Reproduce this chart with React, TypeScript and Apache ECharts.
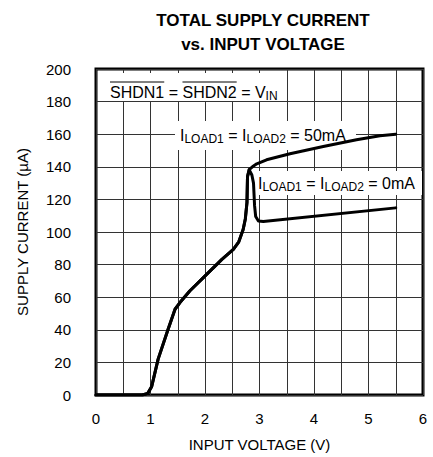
import React, { useEffect, useRef } from "react";
import * as echarts from "echarts";

// Curve: I_LOAD1 = I_LOAD2 = 50mA
const voltage50 = [0, 0.5, 0.85, 0.95, 1.02, 1.14, 1.32, 1.45, 1.54, 1.72, 2.03, 2.31, 2.52, 2.62, 2.7, 2.74, 2.77, 2.78, 2.81, 2.87, 2.95, 3.13, 3.56, 4.17, 4.78, 5.21, 5.5];
const current50 = [0, 0, 0, 1, 5, 22, 40, 52.6, 56.7, 63.8, 74, 83.2, 89.3, 94, 101.5, 108, 118, 134, 138.2, 140, 141.8, 144.3, 148, 152.5, 156.6, 159, 160];

// Curve: I_LOAD1 = I_LOAD2 = 0mA
const voltage0 = [0, 0.5, 0.85, 0.95, 1.02, 1.14, 1.32, 1.45, 1.54, 1.72, 2.03, 2.31, 2.52, 2.62, 2.7, 2.74, 2.77, 2.78, 2.81, 2.86, 2.89, 2.91, 2.93, 2.98, 3.07, 5.5];
const current0 = [0, 0, 0, 1, 5, 22, 40, 52.6, 56.7, 63.8, 74, 83.2, 89.3, 94, 101.5, 108, 118, 134, 138.2, 135, 130, 116, 109.5, 106.8, 106.5, 114.8];

const xTicks = [0, 1, 2, 3, 4, 5, 6];
const yTicks = [0, 20, 40, 60, 80, 100, 120, 140, 160, 180, 200];

const FONT = "'Liberation Sans', Arial, Helvetica, sans-serif";

function measure(text: string, size: number): number {
  const c = document.createElement("canvas").getContext("2d");
  if (!c) return text.length * size * 0.55;
  c.font = `${size}px ${FONT}`;
  return c.measureText(text).width;
}

export default function App() {
  const ref = useRef<HTMLDivElement>(null);
  useEffect(() => {
    document.body.style.margin = "0";
    if (!ref.current) return;
    const chart = echarts.init(ref.current, undefined, { renderer: "svg" });

    const fs = 16;
    const sub = 12;
    const rich = {
      m: { fontSize: fs, fontFamily: FONT, color: "#000", lineHeight: 19 },
      s: { fontSize: sub, fontFamily: FONT, color: "#000", lineHeight: 19, verticalAlign: "bottom" as const, padding: [6, 0, 0, 0] },
    };

    const shdnX = 110;
    const shdnY = 92;
    const w1 = measure("SHDN1", fs);
    const wEq = measure(" = ", fs);
    const w2 = measure("SHDN2", fs);
    const olY = shdnY - 10;

    chart.setOption({
      animation: false,
      title: {
        text: "TOTAL SUPPLY CURRENT\nvs. INPUT VOLTAGE",
        left: 258,
        top: 3,
        textAlign: "center",
        textStyle: { fontFamily: FONT, fontSize: 17, fontWeight: "bold", color: "#000", lineHeight: 24 },
      },
      grid: { left: 96, right: 10, top: 69, bottom: 61, show: true, borderColor: "#000", borderWidth: 3, backgroundColor: "transparent" },
      xAxis: {
        type: "value",
        min: xTicks[0],
        max: xTicks[xTicks.length - 1],
        interval: 1,
        name: "INPUT VOLTAGE (V)",
        nameLocation: "middle",
        nameGap: 42,
        nameTextStyle: { fontFamily: FONT, fontSize: 15, color: "#000" },
        axisLine: { show: false },
        axisTick: { show: false },
        axisLabel: { fontFamily: FONT, fontSize: 15, color: "#000", margin: 16 },
        splitLine: { show: true, lineStyle: { color: "#333", width: 1 } },
        minorTick: { show: false, splitNumber: 2 },
        minorSplitLine: { show: true, lineStyle: { color: "#333", width: 1 } },
      },
      yAxis: {
        type: "value",
        min: yTicks[0],
        max: yTicks[yTicks.length - 1],
        interval: 20,
        name: "SUPPLY CURRENT (µA)",
        nameLocation: "middle",
        nameGap: 66,
        nameRotate: 90,
        nameTextStyle: { fontFamily: FONT, fontSize: 15, color: "#000" },
        axisLine: { show: false },
        axisTick: { show: false },
        axisLabel: { fontFamily: FONT, fontSize: 15, color: "#000", margin: 25 },
        splitLine: { show: true, lineStyle: { color: "#333", width: 1 } },
      },
      series: [
        {
          type: "line",
          data: voltage50.map((v, i) => [v, current50[i]]),
          showSymbol: false,
          lineStyle: { color: "#000", width: 3, join: "round", cap: "round" },
          smooth: false,
          z: 10,
        },
        {
          type: "line",
          data: voltage0.map((v, i) => [v, current0[i]]),
          showSymbol: false,
          lineStyle: { color: "#000", width: 3, join: "round", cap: "round" },
          smooth: false,
          z: 10,
        },
      ],
      graphic: [
        { type: "rect", z: 1, shape: { x: 100, y: 73, width: 182, height: 28 }, style: { fill: "#fff" } },
        {
          type: "text", z: 2, x: shdnX, y: shdnY,
          style: { text: "{m|SHDN1 = SHDN2 = V}{s|IN}", rich, verticalAlign: "middle", align: "left" },
        },
        { type: "line", z: 2, shape: { x1: shdnX, y1: olY, x2: shdnX + w1, y2: olY }, style: { stroke: "#000", lineWidth: 1 } },
        { type: "line", z: 2, shape: { x1: shdnX + w1 + wEq, y1: olY, x2: shdnX + w1 + wEq + w2, y2: olY }, style: { stroke: "#000", lineWidth: 1 } },
        { type: "rect", z: 1, shape: { x: 175, y: 121, width: 181, height: 29 }, style: { fill: "#fff" } },
        {
          type: "text", z: 2, x: 180, y: 135,
          style: { text: "{m|I}{s|LOAD1}{m| = I}{s|LOAD2}{m| = 50mA}", rich, verticalAlign: "middle", align: "left" },
        },
        { type: "rect", z: 1, shape: { x: 256, y: 171, width: 166, height: 24 }, style: { fill: "#fff" } },
        {
          type: "text", z: 2, x: 258, y: 183,
          style: { text: "{m|I}{s|LOAD1}{m| = I}{s|LOAD2}{m| = 0mA}", rich, verticalAlign: "middle", align: "left" },
        },
      ],
    });
    return () => chart.dispose();
  }, []);
  return <div ref={ref} style={{ width: 433, height: 457 }} />;
}
